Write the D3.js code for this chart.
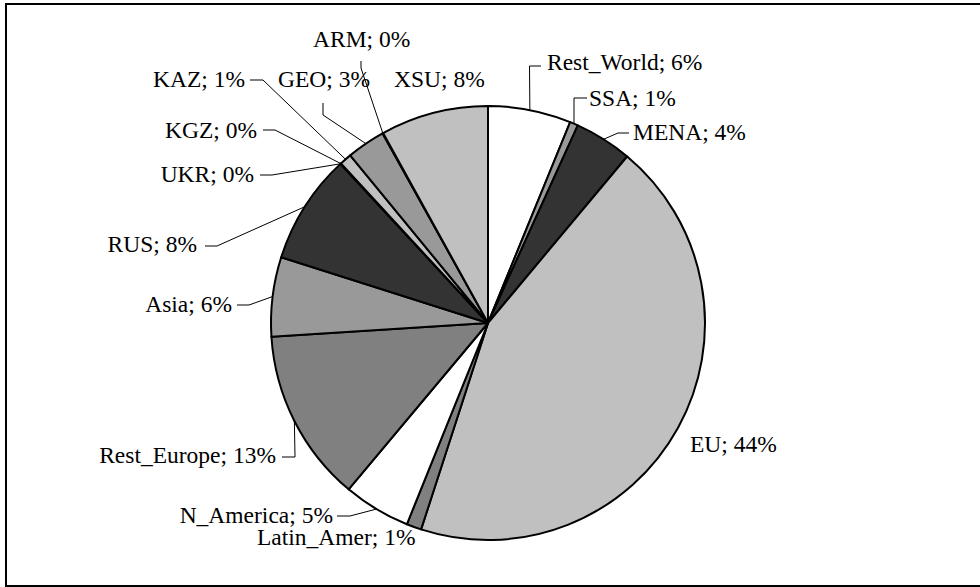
<!DOCTYPE html>
<html>
<head>
<meta charset="utf-8">
<script src="https://cdn.jsdelivr.net/npm/d3@7"></script>
<style>
  body { margin: 0; background: #fff; }
</style>
</head>
<body>
<div id="chart-container"></div>
<script>
// Slice data, clockwise from 12 o'clock
const regions = ["Rest_World", "SSA", "MENA", "EU", "Latin_Amer", "N_America", "Rest_Europe",
  "Asia", "RUS", "UKR", "KGZ", "KAZ", "GEO", "ARM", "XSU"];
const shares = [6.18, 0.61, 4.29, 43.91, 1.11, 5.0, 12.89, 5.91, 8.2, 0.02, 0.03, 0.9, 2.87, 0.05, 8.03];
const fills = ["#ffffff", "#999999", "#333333", "#c0c0c0", "#808080", "#ffffff", "#808080",
  "#999999", "#333333", "#c0c0c0", "#999999", "#c0c0c0", "#999999", "#808080", "#c0c0c0"];

// Label layout: text anchor point and optional leader line (start, elbow)
const labelLayout = {
  Rest_World:  { x: 547, y: 70,  anchor: "start", lead: [[541, 66], [529.5, 66]] },
  SSA:         { x: 589, y: 106, anchor: "start", lead: [[587, 98], [574, 98]] },
  MENA:        { x: 633, y: 140, anchor: "start", lead: [[629, 133], [618, 133]] },
  EU:          { x: 690, y: 452, anchor: "start" },
  Latin_Amer:  { x: 257, y: 545, anchor: "start" },
  N_America:   { x: 333, y: 523, anchor: "end", lead: [[337, 516], [350, 516]] },
  Rest_Europe: { x: 276, y: 463, anchor: "end", lead: [[282, 457], [295, 457]] },
  Asia:        { x: 232, y: 312, anchor: "end", lead: [[237, 305], [249, 305]] },
  RUS:         { x: 197, y: 252, anchor: "end", lead: [[205, 246], [217, 246]] },
  UKR:         { x: 254, y: 182, anchor: "end", lead: [[260, 175], [272, 175]] },
  KGZ:         { x: 257, y: 138, anchor: "end", lead: [[263, 130], [275, 130]] },
  KAZ:         { x: 245, y: 87,  anchor: "end", lead: [[250, 80], [263, 80]] },
  GEO:         { x: 278, y: 87,  anchor: "start", lead: [[323, 103], [323, 115]] },
  ARM:         { x: 313, y: 47,  anchor: "start", lead: [[361, 61], [361, 68]] },
  XSU:         { x: 394, y: 87,  anchor: "start" }
};

const width = 980, height = 587;
const cx = 488, cy = 323, radius = 217;

const data = regions.map((name, i) => ({ name, value: shares[i], fill: fills[i] }));

const svg = d3.select("#chart-container")
  .append("svg")
  .attr("width", width)
  .attr("height", height);

// Outer frame
svg.append("rect")
  .attr("x", 6)
  .attr("y", 4)
  .attr("width", width)
  .attr("height", 582)
  .attr("fill", "none")
  .attr("stroke", "#000")
  .attr("stroke-width", 2);

const pie = d3.pie()
  .sort(null)
  .value(d => d.value);

const arc = d3.arc()
  .innerRadius(0)
  .outerRadius(radius);

// arc at the rim, used to find where leader lines touch the pie
const rimArc = d3.arc()
  .innerRadius(radius)
  .outerRadius(radius);

const arcs = pie(data);

const g = svg.append("g")
  .attr("transform", `translate(${cx},${cy})`);

g.selectAll("path.slice")
  .data(arcs)
  .join("path")
  .attr("class", "slice")
  .attr("d", arc)
  .attr("fill", d => d.data.fill)
  .attr("stroke", "#000")
  .attr("stroke-width", 2)
  .attr("stroke-linejoin", "round");

// Leader lines
const lineGen = d3.line();
svg.selectAll("path.leader")
  .data(arcs.filter(d => labelLayout[d.data.name].lead))
  .join("path")
  .attr("class", "leader")
  .attr("fill", "none")
  .attr("stroke", "#000")
  .attr("stroke-width", 1)
  .attr("d", d => {
    const lay = labelLayout[d.data.name];
    const [ex, ey] = rimArc.centroid(d);
    return lineGen([lay.lead[0], lay.lead[1], [cx + ex, cy + ey]]);
  });

// Labels
svg.selectAll("text.label")
  .data(arcs)
  .join("text")
  .attr("class", "label")
  .attr("x", d => labelLayout[d.data.name].x)
  .attr("y", d => labelLayout[d.data.name].y)
  .attr("text-anchor", d => labelLayout[d.data.name].anchor)
  .attr("font-family", "'Liberation Serif', 'DejaVu Serif', serif")
  .attr("font-size", "23.5px")
  .attr("fill", "#000")
  .text(d => `${d.data.name}; ${Math.round(d.data.value)}%`);
</script>
</body>
</html>
